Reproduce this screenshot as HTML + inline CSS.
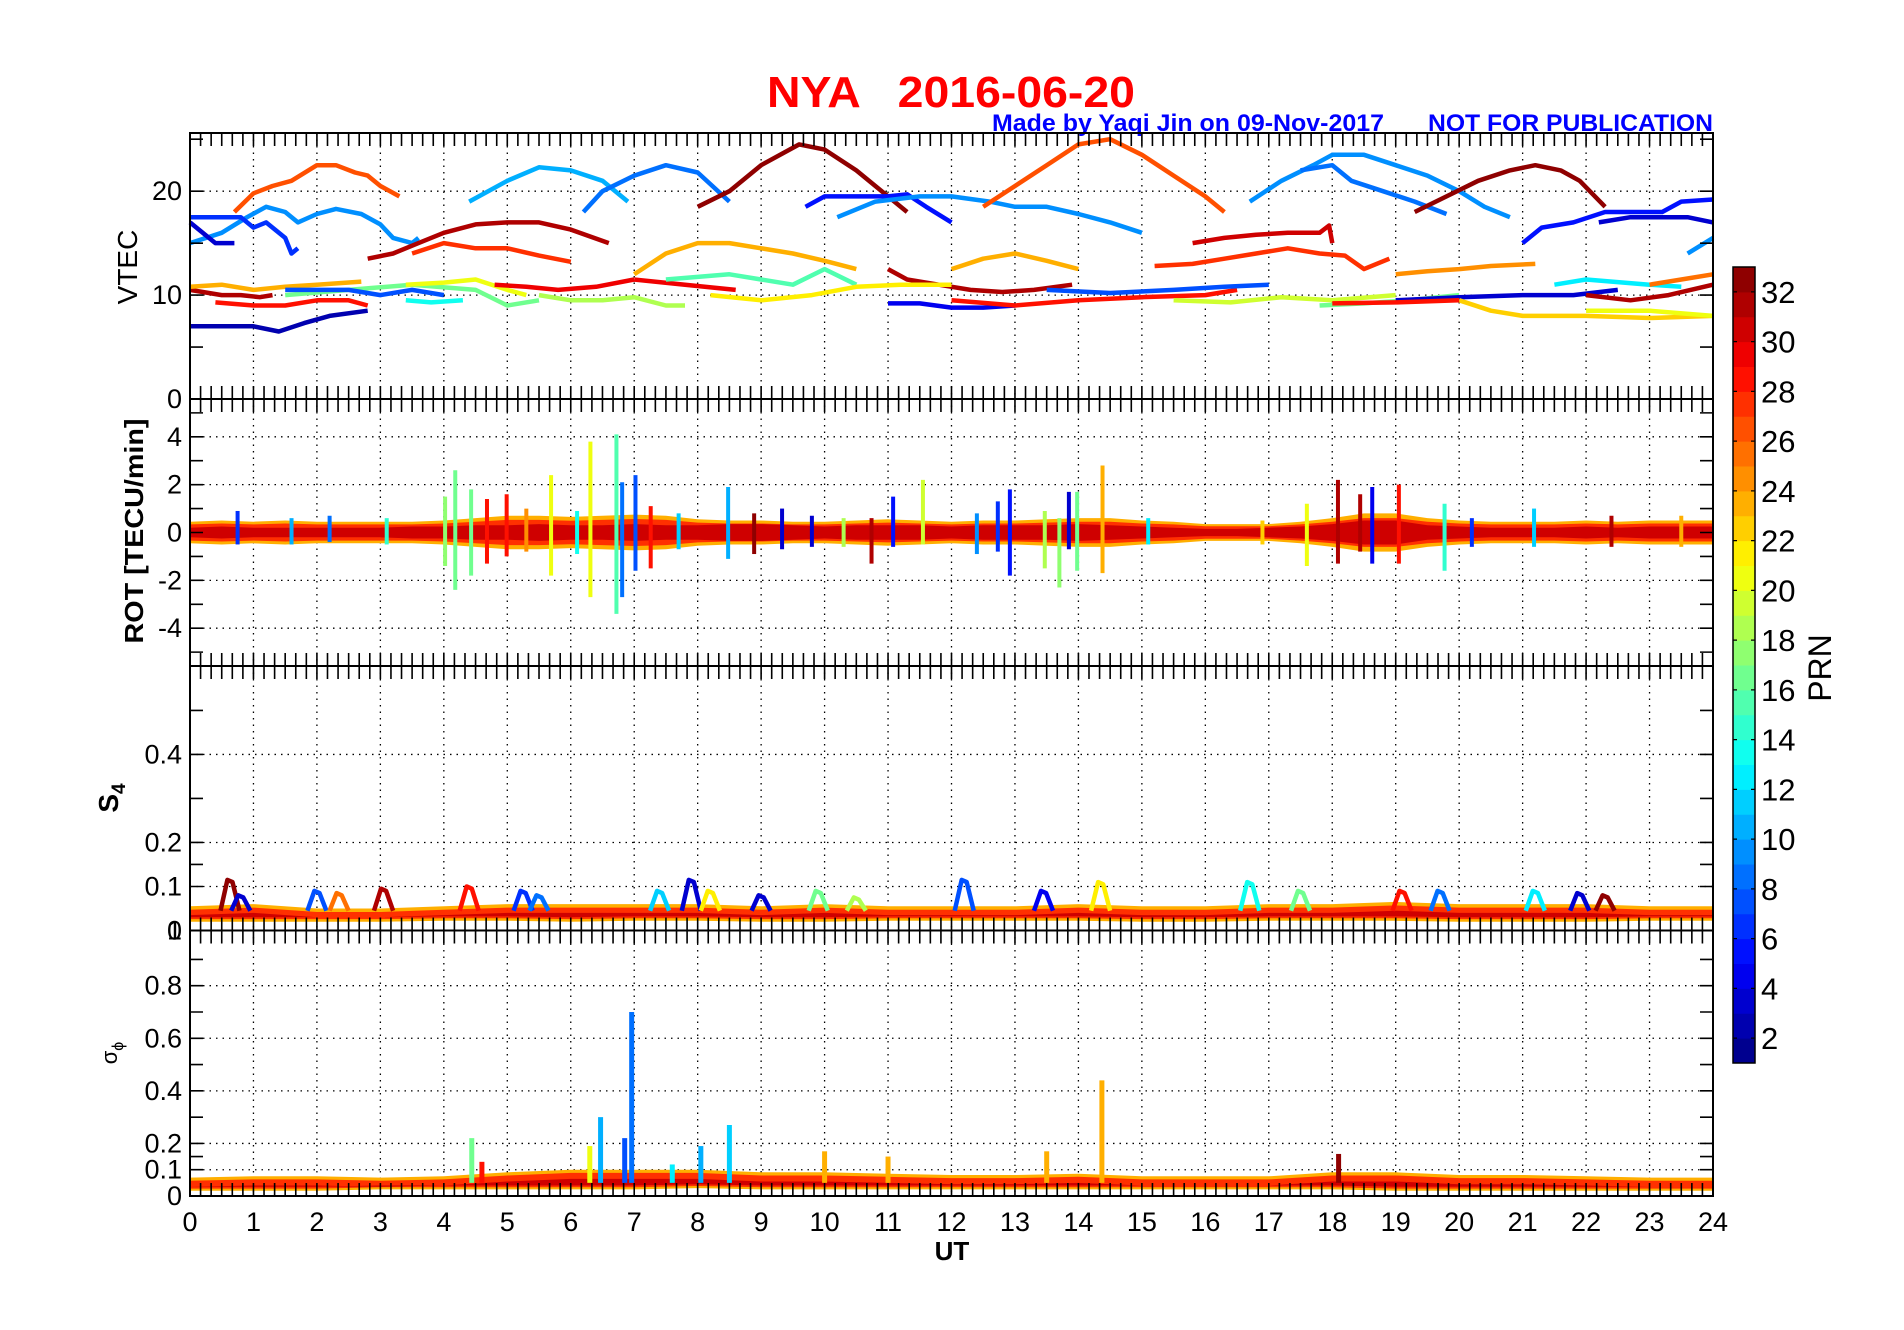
<!DOCTYPE html>
<html><head><meta charset="utf-8"><title>NYA 2016-06-20</title>
<style>
html,body{margin:0;padding:0;background:#fff;}
svg{display:block;font-family:"Liberation Sans",Arial,sans-serif;}
</style></head>
<body>
<svg id="chart" width="1904" height="1330" viewBox="0 0 1904 1330" xmlns="http://www.w3.org/2000/svg">
<rect x="0" y="0" width="1904" height="1330" fill="#fff"/>
<text x="767" y="107" font-size="44" font-weight="bold" fill="#ff0000" textLength="368" lengthAdjust="spacingAndGlyphs" style="white-space:pre">NYA   2016-06-20</text>
<text x="992" y="131" font-size="24" font-weight="bold" fill="#0000ff" textLength="392" lengthAdjust="spacingAndGlyphs">Made by Yaqi Jin on 09-Nov-2017</text>
<text x="1428" y="131" font-size="24" font-weight="bold" fill="#0000ff" textLength="285" lengthAdjust="spacingAndGlyphs">NOT FOR PUBLICATION</text>
<g id="panels"></g>
<text transform="translate(137,267) rotate(-90)" text-anchor="middle" font-size="28">VTEC</text>
<text transform="translate(143,531) rotate(-90)" text-anchor="middle" font-size="26" font-weight="bold" textLength="225" lengthAdjust="spacingAndGlyphs">ROT [TECU/min]</text>
<text transform="translate(118,798) rotate(-90)" text-anchor="middle" font-size="28" font-weight="bold">S<tspan font-size="19" dy="7">4</tspan></text>
<text transform="translate(117,1053) rotate(-90)" text-anchor="middle" font-size="22">σ<tspan font-size="16" dy="6">ϕ</tspan></text>
<text x="952" y="1260" text-anchor="middle" font-size="26" font-weight="bold">UT</text>
<g id="colorbar"></g>
<text transform="translate(1831,668) rotate(-90)" text-anchor="middle" font-size="32">PRN</text>
</svg>
<script>
// ---------- VTEC arcs ----------
const vtecPrn = [26,9,6,3,31,27,10,8,32,5,9,26,9,8,32,5,3,9,30,27,23,23,24,31,2,28,31,23,16,7,20,13,18,29,29,15,21,4,28,7,19,16,3,22,20,12,31,25,28];
const vtecT = [
[0.7,1.0,1.3,1.6,2.0,2.3,2.6,2.8,3.0,3.3],
[0,0.5,0.9,1.2,1.5,1.7,2.0,2.3,2.7,3.0,3.2,3.5,3.6],
[0,0.5,0.8,1.0,1.2,1.5,1.6,1.7],
[0,0.2,0.4,0.7],
[2.8,3.2,3.6,4.0,4.5,5.0,5.5,6.0,6.6],
[3.5,4.0,4.5,5.0,5.5,6.0],
[4.4,5.0,5.5,6.0,6.5,6.9],
[6.2,6.5,7.0,7.5,8.0,8.5],
[8.0,8.5,9.0,9.6,10.0,10.5,11.0,11.3],
[9.7,10.0,10.5,11.0,11.3,11.6,12.0],
[10.2,10.8,11.5,12.0,12.6,13.0,13.5,14.0,14.5,15.0],
[12.5,13.0,13.5,14.0,14.5,15.0,15.5,16.0,16.3],
[16.7,17.2,17.7,18.0,18.5,19.0,19.5,20.0,20.4,20.8],
[17.5,18.0,18.3,18.8,19.3,19.8],
[19.3,19.8,20.3,20.8,21.2,21.6,21.9,22.3],
[21.0,21.3,21.8,22.3,22.8,23.2,23.5,24.0],
[22.2,22.7,23.2,23.6,24.0],
[23.6,24.0],
[15.8,16.3,16.8,17.3,17.8,17.95,18.0],
[15.2,15.8,16.3,16.8,17.3,17.8,18.2,18.5,18.9],
[7.0,7.5,8.0,8.5,9.0,9.5,10.0,10.5],
[12.0,12.5,13.0,13.5,14.0],
[19.0,19.5,20.0,20.5,21.2],
[11.0,11.3,11.8,12.3,12.8,13.3,13.9],
[0,0.5,1.0,1.4,1.8,2.2,2.8],
[0.4,1.0,1.5,2.0,2.5,2.8],
[0,0.5,0.8,1.1,1.3],
[0,0.5,1.0,1.5,2.0,2.7],
[1.5,2.5,3.5,4.5,5.0,5.5],
[1.5,2.5,3.0,3.5,4.0],
[3.4,4.0,4.5,5.0,5.3],
[3.4,3.8,4.3],
[5.5,6.0,6.5,7.0,7.5,7.8],
[4.8,5.3,5.8,6.4,7.0],
[7.0,7.8,8.6],
[7.5,8.5,9.5,10.0,10.5],
[8.2,9.0,9.8,10.5,11.2,12.0],
[11.0,11.5,12.0,12.5,13.0],
[12.0,13.0,14.0,15.0,16.0,16.5],
[13.5,14.5,15.5,16.3,17.0],
[15.5,16.4,17.2,18.0,19.0],
[17.8,18.5,19.2,20.0],
[19.0,20.0,21.0,21.8,22.5],
[20.0,20.5,21.0,21.5,22.0,23.0,24.0],
[22.0,23.0,24.0],
[21.5,22.0,23.0,23.5],
[22.0,22.7,23.3,24.0],
[23.0,23.5,24.0],
[18.0,19.0,20.0]
];
const vtecV = [
[18,19.8,20.5,21,22.5,22.5,21.8,21.5,20.5,19.5],
[15,16,17.5,18.5,18,17,17.8,18.3,17.8,16.8,15.5,15,15.5],
[17.5,17.5,17.5,16.5,17,15.5,14,14.5],
[17,16,15,15],
[13.5,14,15,16,16.8,17,17,16.3,15],
[14,15,14.5,14.5,13.8,13.2],
[19,21,22.3,22,21,19],
[18,20,21.5,22.5,21.8,19],
[18.5,20,22.5,24.5,24,22,19.5,18],
[18.5,19.5,19.5,19.5,19.7,18.5,17],
[17.5,19,19.5,19.5,19,18.5,18.5,17.8,17,16],
[18.5,20.5,22.5,24.5,25,23.5,21.5,19.5,18],
[19,21,22.5,23.5,23.5,22.5,21.5,20,18.5,17.5],
[22,22.5,21,20,19,17.8],
[18,19.5,21,22,22.5,22,21,18.5],
[15,16.5,17,18,18,18,19,19.2],
[17,17.5,17.5,17.5,17],
[14,15.5],
[15,15.5,15.8,16,16,16.7,15],
[12.8,13,13.5,14,14.5,14,13.8,12.5,13.5],
[12,14,15,15,14.5,14,13.3,12.5],
[12.5,13.5,14,13.3,12.5],
[12,12.3,12.5,12.8,13],
[12.5,11.5,11,10.5,10.3,10.5,11],
[7,7,7,6.5,7.3,8,8.5],
[9.3,9,9,9.5,9.5,9],
[10.5,10,10,9.8,10],
[10.8,11,10.5,10.8,11,11.3],
[10,10.5,11,10.5,9,9.5],
[10.5,10.5,10,10.5,10],
[11,11.2,11.5,10.5,10],
[9.5,9.3,9.5],
[10,9.5,9.5,9.8,9,9],
[11,10.8,10.5,10.8,11.5],
[11.5,11,10.5],
[11.5,12,11,12.5,11],
[10,9.5,10,10.8,11,11],
[9.2,9.2,8.8,8.8,9],
[9.5,9,9.5,9.8,10,10.5],
[10.5,10.2,10.5,10.8,11],
[9.5,9.3,9.8,9.5,10],
[9,9.2,9.5,10],
[9.5,9.8,10,10,10.5],
[9.5,8.5,8,8,8,7.8,8],
[8.5,8.5,8],
[11,11.5,11,10.8],
[10,9.5,10,11],
[11,11.5,12],
[9.2,9.3,9.5]
];
// ---------- ROT ----------
const rotOuter = [0.45,0.5,0.45,0.5,0.45,0.45,0.45,0.45,0.5,0.6,0.7,0.7,0.65,0.7,0.75,0.7,0.55,0.5,0.5,0.45,0.45,0.5,0.55,0.5,0.45,0.5,0.5,0.55,0.6,0.6,0.5,0.45,0.35,0.35,0.35,0.45,0.6,0.8,0.8,0.6,0.5,0.45,0.45,0.45,0.5,0.45,0.5,0.5,0.5];
const rotInner = [0.2,0.25,0.2,0.2,0.2,0.2,0.2,0.25,0.25,0.3,0.3,0.35,0.3,0.3,0.35,0.3,0.3,0.35,0.35,0.3,0.25,0.3,0.3,0.3,0.25,0.3,0.3,0.3,0.35,0.3,0.25,0.2,0.15,0.15,0.2,0.25,0.35,0.5,0.5,0.3,0.25,0.2,0.2,0.2,0.25,0.2,0.25,0.25,0.25];
const rotSpikeT = [4.18,4.02,4.43,4.68,4.99,5.69,6.31,6.72,6.81,7.02,7.26,8.48,9.33,8.89,11.08,10.74,11.55,12.92,12.73,13.85,13.98,13.7,14.38,13.47,18.09,18.63,19.05,18.44,19.77,17.6,21.18,0.75,2.2,5.3,6.1,7.7,9.8,10.3,12.4,15.1,16.9,20.2,22.4,23.5,1.6,3.1];
const rotSpikeHi = [2.6,1.5,1.8,1.4,1.6,2.4,3.8,4.1,2.1,2.4,1.1,1.9,1.0,0.8,1.5,0.6,2.2,1.8,1.3,1.7,1.7,0.6,2.8,0.9,2.2,1.9,2.0,1.6,1.2,1.2,1.0,0.9,0.7,1.0,0.9,0.8,0.7,0.6,0.8,0.6,0.5,0.6,0.7,0.7,0.6,0.6];
const rotSpikeLo = [-2.4,-1.4,-1.8,-1.3,-1.0,-1.8,-2.7,-3.4,-2.7,-1.6,-1.5,-1.1,-0.7,-0.9,-0.6,-1.3,-0.5,-1.8,-0.8,-0.7,-1.6,-2.3,-1.7,-1.5,-1.3,-1.3,-1.3,-0.8,-1.6,-1.4,-0.6,-0.5,-0.4,-0.8,-0.9,-0.7,-0.6,-0.6,-0.9,-0.5,-0.5,-0.6,-0.6,-0.6,-0.5,-0.5];
const rotSpikePrn = [16,17,16,28,28,20,20,15,8,7,28,10,3,32,5,31,19,5,6,3,16,17,23,18,31,4,28,31,14,20,11,6,8,24,13,11,3,18,9,12,22,6,31,23,10,14];
// ---------- S4 ----------
const s4High = [0.055,0.06,0.05,0.05,0.055,0.06,0.06,0.06,0.06,0.055,0.06,0.055,0.055,0.055,0.06,0.055,0.055,0.06,0.06,0.065,0.06,0.06,0.06,0.055,0.055];
const s4Low = [0.02,0.02,0.02,0.02,0.022,0.022,0.02,0.022,0.022,0.02,0.02,0.022,0.022,0.022,0.022,0.02,0.02,0.022,0.022,0.022,0.02,0.02,0.02,0.022,0.022];
const s4PeakT = [0.63,0.8,2.0,2.35,3.05,4.4,5.25,7.4,7.9,8.2,9.0,9.9,12.2,13.45,14.35,16.7,17.5,19.1,19.7,21.2,21.9,22.3,5.5,10.5];
const s4PeakV = [0.115,0.08,0.09,0.085,0.095,0.10,0.09,0.09,0.115,0.09,0.08,0.09,0.115,0.09,0.11,0.11,0.09,0.09,0.09,0.09,0.085,0.08,0.08,0.075];
const s4PeakPrn = [32,3,7,25,31,28,6,11,3,21,3,16,7,4,21,13,16,28,8,12,3,32,8,18];
// ---------- sigma phi ----------
const sigHigh = [0.07,0.075,0.075,0.07,0.075,0.09,0.1,0.1,0.1,0.09,0.09,0.085,0.08,0.08,0.085,0.075,0.075,0.075,0.09,0.09,0.08,0.08,0.075,0.07,0.07];
const sigLow = [0.02,0.02,0.02,0.025,0.025,0.025,0.025,0.025,0.03,0.025,0.025,0.025,0.025,0.025,0.025,0.025,0.025,0.025,0.025,0.02,0.02,0.02,0.02,0.02,0.02];
const sigSpikeT = [4.44,6.47,6.96,8.05,8.5,6.3,14.37,13.5,18.1,10.0,11.0,4.6,6.85,7.6];
const sigSpikeV = [0.22,0.30,0.70,0.19,0.27,0.19,0.44,0.17,0.16,0.17,0.15,0.13,0.22,0.12];
const sigSpikePrn = [16,10,8,10,11,20,23,23,32,23,23,28,7,12];
// ---------- axes config ----------
const xTickLabels = ["0","1","2","3","4","5","6","7","8","9","10","11","12","13","14","15","16","17","18","19","20","21","22","23","24"];
const vtecTicks = [0,10,20]; const vtecMinor = [5,15,25];
const rotTicks = [-4,-2,0,2,4]; const rotMinor = [-5,-3,-1,1,3,5];
const s4Ticks = [0,0.1,0.2,0.4]; const s4Minor = [0.15,0.3,0.5];
const sigTicks = [0,0.1,0.2,0.4,0.6,0.8]; const sigMinor = [0.15,0.3,0.5,0.7,0.9];
const cbTicks = [2,4,6,8,10,12,14,16,18,20,22,24,26,28,30,32];

const NS = "http://www.w3.org/2000/svg";
const L = 190, R = 1713, HW = (R - L) / 24;
const xs = t => L + t * HW;
function mk(tag, attrs, parent) { const e = document.createElementNS(NS, tag); for (const k in attrs) e.setAttribute(k, attrs[k]); parent.appendChild(e); return e; }
function jet(prn) {
  const idx = Math.min(31, Math.max(0, Math.floor(prn - 1)));
  const t = (idx + 0.5) / 32;
  const c = v => Math.round(255 * Math.max(0, Math.min(1, v)));
  return `rgb(${c(1.5 - Math.abs(4 * t - 3))},${c(1.5 - Math.abs(4 * t - 2))},${c(1.5 - Math.abs(4 * t - 1))})`;
}
const panels = [
  { name: "vtec", top: 133, bot: 399, min: 0, max: 25.6, ticks: vtecTicks, minor: vtecMinor },
  { name: "rot", top: 399, bot: 666, min: -5.58, max: 5.58, ticks: rotTicks, minor: rotMinor },
  { name: "s4", top: 666, bot: 930.5, min: 0, max: 0.601, ticks: s4Ticks, minor: s4Minor },
  { name: "sigma", top: 930.5, bot: 1196, min: 0, max: 1.01, ticks: sigTicks, minor: sigMinor }
];
panels.forEach(p => { p.y = v => p.bot - (v - p.min) / (p.max - p.min) * (p.bot - p.top); });
const root = document.getElementById("panels");

panels.forEach(p => {
  const g = mk("g", {}, root);
  
  
  for (let h = 1; h < 24; h++) {
    const gl = mk("line", { x1: xs(h), x2: xs(h), y1: p.top, y2: p.bot, stroke: "#000", "stroke-width": 1.3, "stroke-dasharray": "1.5,5" }, g);
    
    
  }
  p.ticks.forEach(v => {
    const yy = p.y(v);
    if (yy > p.top + 2 && yy < p.bot - 2) {
      const gl = mk("line", { x1: L, x2: R, y1: yy, y2: yy, stroke: "#000", "stroke-width": 1.3, "stroke-dasharray": "1.5,5" }, g);
      
      
    }
  });
  const data = mk("g", {}, g);
  
  
  p.data = data;
  const frame = mk("rect", { x: L, y: p.top, width: R - L, height: p.bot - p.top, fill: "none", stroke: "#000", "stroke-width": 2 }, g);
  
  
  let d = "";
  for (let k = 1; k < 144; k++) { const x = xs(k / 6); d += `M${x},${p.top}v13M${x},${p.bot}v-13`; }
  p.ticks.concat(p.minor).forEach(v => { const yy = p.y(v); if (yy >= p.top - 0.5 && yy <= p.bot + 0.5) d += `M${L},${yy}h13M${R},${yy}h-13`; });
  const tk = mk("path", { d: d, stroke: "#000", "stroke-width": 1.6, fill: "none" }, g);
  
  
  p.ticks.forEach(v => {
    const t = mk("text", { x: 182, y: p.y(v) + 9, "text-anchor": "end", "font-size": 27 }, g);
    t.textContent = String(v);
    
    
  });
  if (p.name === "sigma") {
    const t1 = mk("text", { x: 182, y: p.top + 9, "text-anchor": "end", "font-size": 27 }, g);
    t1.textContent = "1";
    
    
    xTickLabels.forEach((lab, i) => {
      const t = mk("text", { x: xs(i), y: 1231, "text-anchor": "middle", "font-size": 27 }, g);
      t.textContent = lab;
      
      
    });
  }
});

const pV = panels[0];
vtecPrn.forEach((prn, i) => {
  const pts = vtecT[i].map((t, j) => xs(t).toFixed(1) + "," + pV.y(vtecV[i][j]).toFixed(1)).join(" ");
  const pl = mk("polyline", { points: pts, fill: "none", stroke: jet(prn), "stroke-width": 4.5, "stroke-linejoin": "round" }, pV.data);
  
  
});

function band(p, hi, lo, step, color, name) {
  const up = hi.map((v, i) => xs(i * step).toFixed(1) + "," + p.y(v).toFixed(1));
  const dn = lo.map((v, i) => xs(i * step).toFixed(1) + "," + p.y(v).toFixed(1)).reverse();
  const pg = mk("polygon", { points: up.concat(dn).join(" "), fill: color }, p.data);
  
  
}
const pR = panels[1];
band(pR, rotOuter, rotOuter.map(v => -v), 0.5, jet(23), 'rot-band-outer');
band(pR, rotOuter.map(v => v * 0.75), rotOuter.map(v => -v * 0.75), 0.5, jet(27), 'rot-band-mid');
band(pR, rotInner, rotInner.map(v => -v), 0.5, jet(30), 'rot-band-inner');
rotSpikeT.forEach((t, i) => {
  const ln = mk("line", { x1: xs(t), x2: xs(t), y1: pR.y(rotSpikeLo[i]), y2: pR.y(rotSpikeHi[i]), stroke: jet(rotSpikePrn[i]), "stroke-width": 4 }, pR.data);
  
  
});
const pS = panels[2];
band(pS, s4High, s4Low, 1, jet(23), 's4-band-outer');
band(pS, s4High.map(v => v - 0.008), s4Low.map(v => v + 0.006), 1, jet(27), 's4-band-mid');
band(pS, s4High.map(v => v - 0.02), s4Low.map(v => v + 0.01), 1, jet(30), 's4-band-inner');
s4PeakT.forEach((t, i) => {
  const pts = [[t - 0.15, 0.045], [t - 0.04, s4PeakV[i]], [t + 0.04, s4PeakV[i] - 0.005], [t + 0.15, 0.045]].map(q => xs(q[0]).toFixed(1) + "," + pS.y(q[1]).toFixed(1)).join(" ");
  const pl = mk("polyline", { points: pts, fill: "none", stroke: jet(s4PeakPrn[i]), "stroke-width": 4.5, "stroke-linejoin": "round" }, pS.data);
  
  
});
const pG = panels[3];
band(pG, sigHigh, sigLow, 1, jet(23), 'sigma-band-outer');
band(pG, sigHigh.map(v => v - 0.012), sigLow.map(v => v + 0.008), 1, jet(27), 'sigma-band-mid');
band(pG, sigHigh.map(v => v - 0.035), sigLow.map(v => v + 0.015), 1, jet(30), 'sigma-band-inner');
sigSpikeT.forEach((t, i) => {
  const ln = mk("line", { x1: xs(t), x2: xs(t), y1: pG.y(0.05), y2: pG.y(sigSpikeV[i]), stroke: jet(sigSpikePrn[i]), "stroke-width": 5 }, pG.data);
  
  
});

const cb = document.getElementById("colorbar");
const cbX = 1733, cbW = 22, cbTop = 267, cbBot = 1063;
const cbY = v => cbBot - (v - 1) / 32 * (cbBot - cbTop);
for (let k = 1; k <= 32; k++) {
  const r = mk("rect", { x: cbX, y: cbY(k + 1), width: cbW, height: cbY(k) - cbY(k + 1) + 0.5, fill: jet(k) }, cb);
  
  
}
const cbf = mk("rect", { x: cbX, y: cbTop, width: cbW, height: cbBot - cbTop, fill: "none", stroke: "#000", "stroke-width": 1.5 }, cb);


cbTicks.forEach(v => {
  const tl = mk("path", { d: `M${cbX},${cbY(v)}h4M${cbX + cbW},${cbY(v)}h-4`, stroke: "#000", "stroke-width": 1.2 }, cb);
  
  
  const t = mk("text", { x: 1761, y: cbY(v) + 11, "font-size": 31 }, cb);
  t.textContent = String(v);
  
  
});
</script>
</body></html>
